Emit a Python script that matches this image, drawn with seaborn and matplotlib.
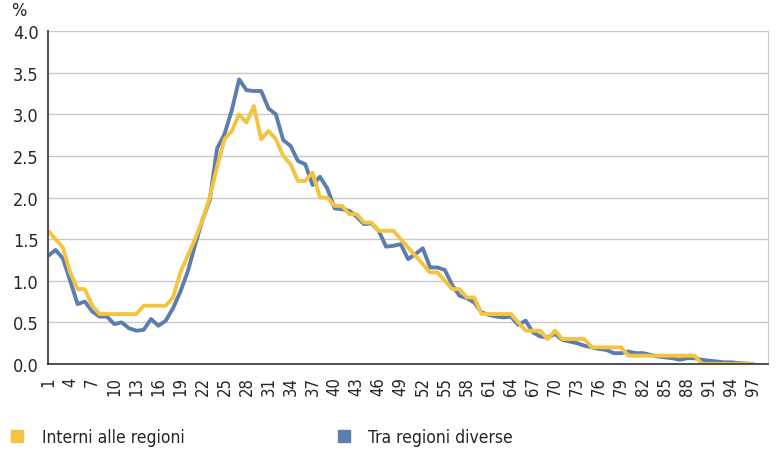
import numpy as np
import pandas as pd
import matplotlib
matplotlib.use("Agg")
import matplotlib.pyplot as plt
from matplotlib.lines import Line2D
import seaborn as sns

# età (anni) e quote percentuali
eta = list(range(1, 98))

interni = [1.6, 1.5, 1.4, 1.1, 0.9, 0.9, 0.7, 0.6, 0.6, 0.6,
           0.6, 0.6, 0.6, 0.7, 0.7, 0.7, 0.7, 0.8, 1.1, 1.3,
           1.5, 1.73, 2.0, 2.37, 2.7, 2.8, 3.0, 2.9, 3.1, 2.7,
           2.8, 2.7, 2.5, 2.4, 2.2, 2.2, 2.3, 2.0, 2.0, 1.9,
           1.9, 1.8, 1.8, 1.7, 1.7, 1.6, 1.6, 1.6, 1.5, 1.4,
           1.3, 1.2, 1.1, 1.1, 1.0, 0.9, 0.9, 0.8, 0.8, 0.6,
           0.6, 0.6, 0.6, 0.6, 0.5, 0.4, 0.4, 0.4, 0.3, 0.4,
           0.3, 0.3, 0.3, 0.3, 0.2, 0.2, 0.2, 0.2, 0.2, 0.1,
           0.1, 0.1, 0.1, 0.1, 0.1, 0.1, 0.1, 0.1, 0.1, 0.0,
           0.0, 0.0, 0.0, 0.0, 0.0, 0.0, 0.0]

tra_regioni = [1.3, 1.37, 1.27, 1.0, 0.72, 0.75, 0.63, 0.57, 0.57, 0.48,
               0.5, 0.43, 0.4, 0.41, 0.54, 0.46, 0.52, 0.67, 0.87, 1.11,
               1.43, 1.73, 1.97, 2.59, 2.76, 3.05, 3.42, 3.29, 3.28, 3.28,
               3.07, 3.0, 2.69, 2.62, 2.44, 2.4, 2.15, 2.25, 2.11, 1.87,
               1.86, 1.84, 1.77, 1.68, 1.69, 1.6, 1.41, 1.42, 1.44, 1.26,
               1.32, 1.39, 1.16, 1.16, 1.13, 0.95, 0.82, 0.79, 0.74, 0.62,
               0.59, 0.57, 0.56, 0.57, 0.47, 0.52, 0.38, 0.33, 0.32, 0.36,
               0.29, 0.27, 0.25, 0.22, 0.2, 0.18, 0.17, 0.13, 0.13, 0.15,
               0.13, 0.13, 0.11, 0.09, 0.08, 0.07, 0.05, 0.07, 0.07, 0.05,
               0.04, 0.03, 0.02, 0.02, 0.01, 0.005, 0.0]

serie = ["Tra regioni diverse", "Interni alle regioni"]
colori = {"Interni alle regioni": "#F4C440", "Tra regioni diverse": "#5B7EAF"}

df = pd.concat([
    pd.DataFrame({"eta": eta, "valore": tra_regioni, "serie": serie[0]}),
    pd.DataFrame({"eta": eta, "valore": interni, "serie": serie[1]}),
])

sns.set_style("white")
plt.rcParams["font.family"] = ["DejaVu Sans"]
plt.rcParams["font.stretch"] = "condensed"

fig = plt.figure(figsize=(7.77, 4.52), dpi=100)
ax = fig.add_axes([0.062, 0.1925, 0.9264, 0.7365])

sns.lineplot(data=df, x="eta", y="valore", hue="serie", hue_order=serie,
             palette=colori, linewidth=2.8, ax=ax, legend=False)

ax.set_xlim(1, 99)
ax.set_ylim(0, 4.0)
ax.set_yticks(np.arange(0, 4.01, 0.5))
ax.set_yticklabels([f"{v:.1f}" for v in np.arange(0, 4.01, 0.5)], fontsize=13)
ax.yaxis.grid(True, color="#c8c8c8", linewidth=1)
ax.set_axisbelow(True)

ticks = list(range(1, 100))
ax.set_xticks(ticks)
ax.set_xticklabels([str(t) if (t - 1) % 3 == 0 and t <= 97 else "" for t in ticks],
                   rotation=90, fontsize=12)
ax.tick_params(axis="x", direction="out", length=7.5, width=1, color="#333333", pad=1.5)
ax.tick_params(axis="y", direction="out", length=5, width=1, color="#555555", pad=2)
ax.set_xlabel("")
ax.set_ylabel("")

ax.spines["top"].set_visible(False)
ax.spines["right"].set_color("#c8c8c8")
ax.spines["left"].set_color("#555555")
ax.spines["left"].set_linewidth(1.5)
ax.spines["bottom"].set_color("#333333")
ax.spines["bottom"].set_linewidth(1.2)

fig.text(0.014, 0.955, "%", fontsize=13, ha="left", va="bottom")

handles = [Line2D([], [], marker="s", linestyle="", markersize=8,
                  color=colori["Interni alle regioni"]),
           Line2D([], [], marker="s", linestyle="", markersize=8,
                  color=colori["Tra regioni diverse"])]
fig.legend(handles, ["Interni alle regioni", "Tra regioni diverse"],
           loc="lower left", bbox_to_anchor=(0.0, -0.012), ncol=2,
           frameon=False, fontsize=12.5, handletextpad=1.0, borderaxespad=0.2,
           columnspacing=8.8, handlelength=0.8)

fig.savefig("out.png", dpi=100)
